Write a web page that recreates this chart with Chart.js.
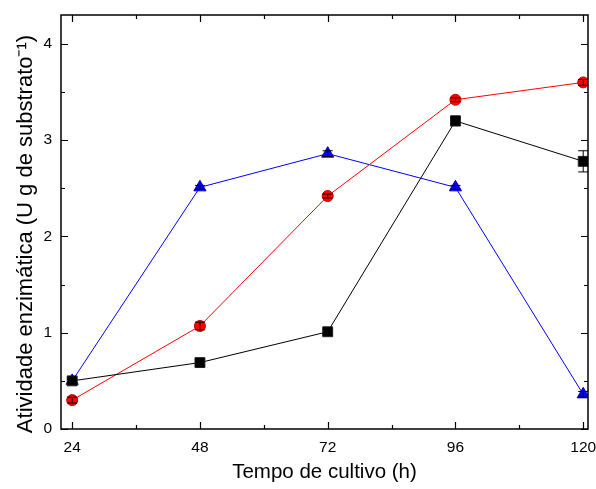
<!DOCTYPE html>
<html><head><meta charset="utf-8">
<script src="https://cdn.jsdelivr.net/npm/chart.js@4"></script>
<style>html,body{margin:0;padding:0;background:#fff}#wrap{width:596px;height:489px}</style>
</head><body><div id="wrap"><canvas id="c" width="596" height="489"></canvas></div>
<script>
const hours = [24, 48, 72, 96, 120];
const blackSquares = [0.50, 0.69, 1.01, 3.20, 2.78];
const blackErr = [0.02, 0.03, 0.03, 0.05, 0.11];
const redCircles = [0.30, 1.07, 2.42, 3.42, 3.60];
const redErr = [0.03, 0.04, 0.02, 0.02, 0.03];
const blueTriangles = [0.50, 2.51, 2.86, 2.51, 0.36];
const blueErr = [0.02, 0.02, 0.03, 0.02, 0.03];
const xTicks = [24, 48, 72, 96, 120];
const xMinor = [36, 60, 84, 108];
const yTicks = [0, 1, 2, 3, 4];
const yMinor = [0.5, 1.5, 2.5, 3.5];
const xTitle = 'Tempo de cultivo (h)';
const yTitle = 'Atividade enzimática (U g de substrato\u207B\u00B9)';

const mk = (ys) => hours.map((h, i) => ({x: h, y: ys[i]}));
const FONT = "'Liberation Sans', Arial, sans-serif";

const framePlugin = {
  id: 'frame',
  afterDatasetsDraw(chart) {
    const ctx = chart.ctx, xs = chart.scales.x, ys = chart.scales.y;
    const sets = [[blackSquares, blackErr], [redCircles, redErr], [blueTriangles, blueErr]];
    ctx.save();
    ctx.strokeStyle = '#000';
    ctx.lineWidth = 1;
    sets.forEach(([vals, errs]) => {
      hours.forEach((h, i) => {
        const px = xs.getPixelForValue(h);
        const y1 = ys.getPixelForValue(vals[i] + errs[i]);
        const y2 = ys.getPixelForValue(vals[i] - errs[i]);
        ctx.beginPath();
        ctx.moveTo(px, y1); ctx.lineTo(px, y2);
        ctx.moveTo(px - 5, y1); ctx.lineTo(px + 5, y1);
        ctx.moveTo(px - 5, y2); ctx.lineTo(px + 5, y2);
        ctx.stroke();
      });
    });
    ctx.restore();
  },
  afterDraw(chart) {
    const ctx = chart.ctx, a = chart.chartArea, xs = chart.scales.x, ys = chart.scales.y;
    ctx.save();
    ctx.strokeStyle = '#000';
    ctx.lineWidth = 1.5;
    ctx.strokeRect(a.left, a.top, a.right - a.left, a.bottom - a.top);
    ctx.lineWidth = 1.2;
    ctx.beginPath();
    const hx = (v, len) => {
      const p = Math.round(xs.getPixelForValue(v)) + 0.5;
      ctx.moveTo(p, a.bottom); ctx.lineTo(p, a.bottom - len);
      ctx.moveTo(p, a.top); ctx.lineTo(p, a.top + len);
    };
    const vy = (v, len) => {
      const p = Math.round(ys.getPixelForValue(v)) + 0.5;
      ctx.moveTo(a.left, p); ctx.lineTo(a.left + len, p);
      ctx.moveTo(a.right, p); ctx.lineTo(a.right - len, p);
    };
    xTicks.forEach(v => hx(v, 7));
    xMinor.forEach(v => hx(v, 4));
    yTicks.forEach(v => vy(v, 7));
    yMinor.forEach(v => vy(v, 4));
    ctx.stroke();
    // y-axis title, placed as in the reference (slightly below the plot centre)
    ctx.fillStyle = '#000';
    ctx.font = "22px 'Liberation Sans', Arial, sans-serif";
    ctx.textAlign = 'center';
    ctx.textBaseline = 'alphabetic';
    ctx.translate(32, 234);
    ctx.rotate(-Math.PI / 2);
    ctx.fillText(yTitle, 0, 0);
    ctx.restore();
  }
};

new Chart(document.getElementById('c'), {
  type: 'line',
  data: {
    datasets: [
      {data: mk(blackSquares), borderColor: '#000', backgroundColor: '#000', pointBorderColor: '#222',
       borderWidth: 1, pointStyle: 'rect', pointRadius: 7, pointBorderWidth: 1},
      {data: mk(redCircles), borderColor: '#ff0000', backgroundColor: '#ff0000', pointBorderColor: '#c00000',
       borderWidth: 1, pointStyle: 'circle', pointRadius: 5.5, pointBorderWidth: 1},
      {data: mk(blueTriangles), borderColor: '#0000ff', backgroundColor: '#0000ff', pointBorderColor: '#0000cc',
       borderWidth: 1, pointStyle: 'triangle', pointRadius: 7, pointBorderWidth: 1}
    ]
  },
  options: {
    responsive: false,
    animation: false,
    layout: {padding: {top: 15, right: 7, left: 0, bottom: 0}},
    plugins: {legend: {display: false}, tooltip: {enabled: false}},
    scales: {
      x: {
        type: 'linear', min: 21.9, max: 120.9,
        afterBuildTicks: s => { s.ticks = xTicks.map(v => ({value: v})); },
        afterFit: s => { s.height = 60; s.paddingLeft = 0; s.paddingRight = 0; },
        grid: {display: false, drawTicks: false},
        border: {display: false},
        ticks: {color: '#000', font: {family: FONT, size: 15.5}, padding: 9, maxRotation: 0},
        title: {display: true, text: xTitle, color: '#000', font: {family: FONT, size: 20.5}, padding: {top: 4}}
      },
      y: {
        min: 0, max: 4.3,
        afterBuildTicks: s => { s.ticks = yTicks.map(v => ({value: v})); },
        afterFit: s => { s.width = 61; s.paddingTop = 0; s.paddingBottom = 0; },
        grid: {display: false, drawTicks: false},
        border: {display: false},
        ticks: {color: '#000', font: {family: FONT, size: 15.5}, padding: 9},
        title: {display: false}
      }
    }
  },
  plugins: [framePlugin]
});
</script>
</body></html>
